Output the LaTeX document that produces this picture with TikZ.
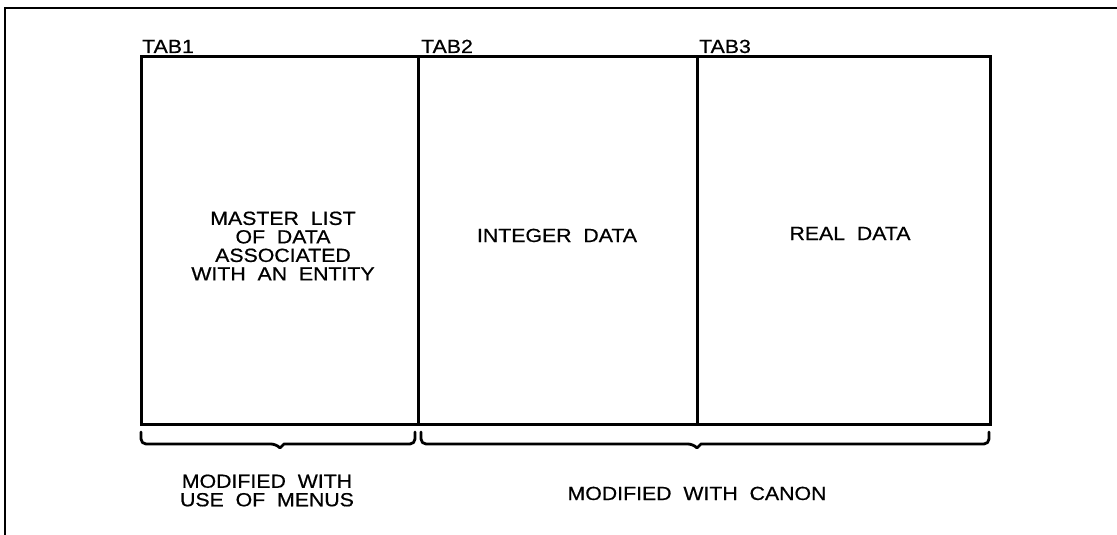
\documentclass[tikz,border=0pt]{standalone}
\usepackage{fontspec}
\setmainfont{Liberation Sans}[FakeStretch=1.12, WordSpace=2, FakeBold=0.6]
\begin{document}
\begin{tikzpicture}[x=1pt,y=-1pt,
  frame/.style={line width=1.1pt},
  boxline/.style={line width=3pt},
  brace/.style={line width=2.8pt, line cap=round, line join=round},
  lbl/.style={inner sep=0pt, font=\fontsize{19}{18.5}\selectfont, align=center},
  tab/.style={inner sep=0pt, font=\fontsize{19}{18.5}\selectfont, anchor=base west}]
\useasboundingbox[fill=white] (0,0) rectangle (1117,535);
% outer frame (only top and left edges visible)
\coordinate (ftl) at (5,8);
\coordinate (ftr) at (1117,8);
\coordinate (fbl) at (5,535);
\draw[frame] (ftr) -- (ftl) -- (fbl);
% main box
\coordinate (tl) at (141,57);
\coordinate (br) at (990,424);
\coordinate (d1t) at (418,57);
\coordinate (d1b) at (418,424);
\coordinate (d2t) at (697,57);
\coordinate (d2b) at (697,424);
\draw[boxline] (tl) rectangle (br);
\draw[boxline] (d1t) -- (d1b);
\draw[boxline] (d2t) -- (d2b);
% tab labels
\node[tab] (tab1) at (142,53) {TAB1};
\node[tab] (tab2) at (421,53) {TAB2};
\node[tab] (tab3) at (699,53) {TAB3};
% cell texts
\node[lbl] (master) at (283,246) {MASTER LIST\\OF DATA\\ASSOCIATED\\WITH AN ENTITY};
\node[lbl, anchor=base] (integer) at (557,242) {INTEGER DATA};
\node[lbl, anchor=base] (real) at (850,240) {REAL DATA};
% braces
\draw[brace, rounded corners=5pt] (141,432) -- (141,444) -- (276,444)
   [sharp corners] -- (280,448) -- (284,444)
   [rounded corners=5pt] -- (415,444) -- (415,432);
\draw[brace, rounded corners=5pt] (421,432) -- (421,444) -- (693,444)
   [sharp corners] -- (697,448) -- (701,444)
   [rounded corners=5pt] -- (989,444) -- (989,432);
% brace labels
\node[lbl] (menus) at (267,490.5) {MODIFIED WITH\\USE OF MENUS};
\node[lbl, anchor=base] (canon) at (697,500) {MODIFIED WITH CANON};
\end{tikzpicture}
\end{document}
